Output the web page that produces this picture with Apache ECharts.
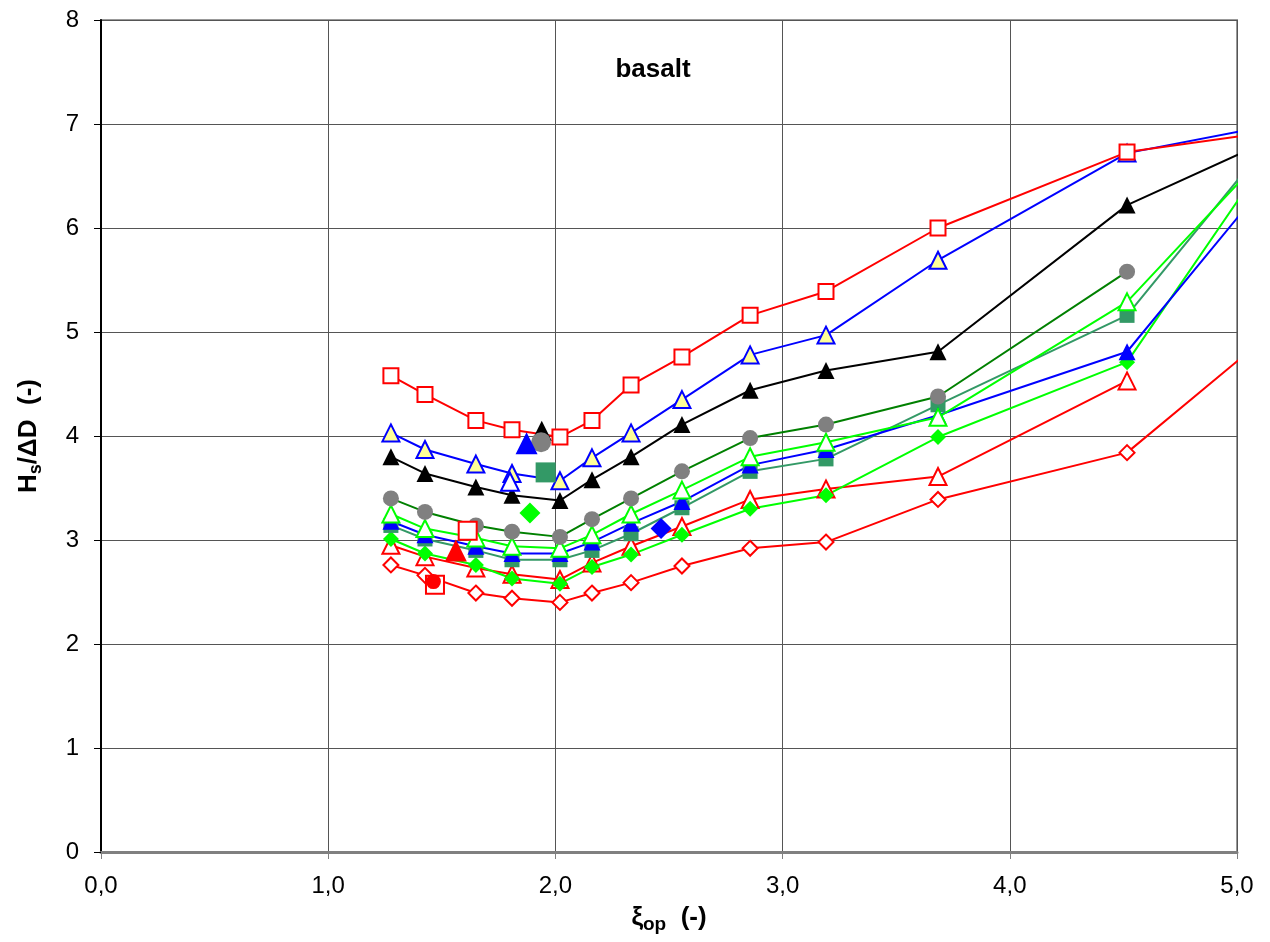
<!DOCTYPE html>
<html>
<head>
<meta charset="utf-8">
<script src="https://cdn.jsdelivr.net/npm/echarts@6/dist/echarts.min.js"></script>
<style>
html,body{margin:0;padding:0;background:#fff;}
#chart{width:1270px;height:942px;}
</style>
</head>
<body>
<div id="chart"></div>
<script>
// ---- data ----
const xs = [1.276,1.426,1.650,1.809,2.020,2.161,2.333,2.557,2.857,3.191,3.684,4.516,5.04];

const redSquare    = [4.58,4.40,4.15,4.06,3.99,4.15,4.49,4.76,5.16,5.39,6.00,6.73,6.89];
const blueOpenTri  = [4.03,3.87,3.73,3.64,3.57,3.79,4.03,4.35,4.78,4.97,5.69,6.72,6.94];
const blackTri     = [3.80,3.64,3.51,3.43,3.38,3.58,3.80,4.11,4.44,4.63,4.81,6.22,6.74];
const grayCircle   = [3.40,3.27,3.14,3.08,3.03,3.20,3.40,3.66,3.98,4.11,4.38,5.58];
const limeOpenTri  = [3.25,3.11,3.02,2.94,2.92,3.05,3.25,3.48,3.80,3.94,4.18,5.29,6.51];
const tealSquare   = [3.14,3.01,2.90,2.81,2.81,2.90,3.06,3.31,3.66,3.78,4.30,5.16,6.56];
const blueTri      = [3.18,3.05,2.94,2.87,2.87,2.98,3.16,3.37,3.72,3.87,4.20,4.81,6.20];
const limeDiamond  = [3.01,2.87,2.76,2.63,2.58,2.74,2.86,3.05,3.30,3.43,3.99,4.71,6.38];
const redOpenTri   = [2.95,2.84,2.73,2.67,2.62,2.78,2.94,3.13,3.39,3.49,3.61,4.53];
const redDiamond   = [2.76,2.66,2.49,2.44,2.40,2.49,2.59,2.75,2.92,2.98,3.39,3.84,4.79];

// isolated points [x, y]
const ptBlackTri    = [1.940, 4.05];
const ptGrayCircle  = [1.937, 3.94];
const ptBlueTri     = [1.873, 3.93];
const ptTealSquare  = [1.957, 3.65];
const ptBlueOpenTri = [1.800, 3.56];
const ptLimeDiamond = [1.888, 3.26];
const ptRedSquareA  = [1.614, 3.09];
const ptRedTri      = [1.562, 2.90];
const ptRedCircle   = [1.463, 2.60];
const ptRedSquareB  = [1.470, 2.57];
const ptBlueDiamond = [2.465, 3.11];

const xTicks = [0,1,2,3,4,5];
const yTicks = [0,1,2,3,4,5,6,7,8];

// ---- build ----
function pairs(ys){ return ys.map((y,i)=>[xs[i], y]); }

function lineSeries(name, ys, lineColor, symbol, size, fill, border){
  return {
    name, type:'line', data: pairs(ys), clip:true,
    symbol, symbolSize:size,
    lineStyle:{color:lineColor, width:2},
    itemStyle:{color:fill, borderColor:border, borderWidth: fill===border?0:2},
    emphasis:{disabled:true}, animation:false, z:2
  };
}
function pointSeries(name, pt, symbol, size, fill, border){
  return {
    name, type:'scatter', data:[pt], symbol, symbolSize:size,
    itemStyle:{color:fill, borderColor:border, borderWidth: fill===border?0:2, opacity:1},
    emphasis:{disabled:true}, animation:false, z:5
  };
}

const RED='#FF0000', BLUE='#0000FF', BLACK='#000000', DKGREEN='#008000',
      LIME='#00FF00', TEAL='#339966', GRAY='#808080', YEL='#FFFF99', WHITE='#FFFFFF';

const series = [
  lineSeries('redDiamond', redDiamond, RED, 'diamond', 15, WHITE, RED),
  lineSeries('redOpenTri', redOpenTri, RED, 'triangle', 17, WHITE, RED),
  lineSeries('limeDiamond', limeDiamond, LIME, 'diamond', 16, LIME, LIME),
  lineSeries('tealSquare', tealSquare, TEAL, 'rect', 15, TEAL, TEAL),
  lineSeries('blueTri', blueTri, BLUE, 'triangle', 17, BLUE, BLUE),
  lineSeries('limeOpenTri', limeOpenTri, LIME, 'triangle', 17, WHITE, LIME),
  lineSeries('grayCircle', grayCircle, DKGREEN, 'circle', 16, GRAY, GRAY),
  lineSeries('blackTri', blackTri, BLACK, 'triangle', 17, BLACK, BLACK),
  lineSeries('blueOpenTri', blueOpenTri, BLUE, 'triangle', 17, YEL, BLUE),
  lineSeries('redSquare', redSquare, RED, 'rect', 15, WHITE, RED),
  pointSeries('ptBlackTri', ptBlackTri, 'triangle', 20, BLACK, BLACK),
  pointSeries('ptGrayCircle', ptGrayCircle, 'circle', 20, GRAY, GRAY),
  pointSeries('ptBlueTri', ptBlueTri, 'triangle', 22, BLUE, BLUE),
  pointSeries('ptTealSquare', ptTealSquare, 'rect', 20, TEAL, TEAL),
  pointSeries('ptBlueOpenTri', ptBlueOpenTri, 'triangle', 18, WHITE, BLUE),
  pointSeries('ptLimeDiamond', ptLimeDiamond, 'diamond', 21, LIME, LIME),
  pointSeries('ptRedSquareA', ptRedSquareA, 'rect', 18, WHITE, RED),
  pointSeries('ptRedTri', ptRedTri, 'triangle', 22, RED, RED),
  pointSeries('ptRedSquareB', ptRedSquareB, 'rect', 18, WHITE, RED),
  pointSeries('ptRedCircle', ptRedCircle, 'circle', 15, RED, RED),
  pointSeries('ptBlueDiamond', ptBlueDiamond, 'diamond', 21, BLUE, BLUE)
];

const FONT = '"Liberation Sans", Arial, Helvetica, sans-serif';

const chart = echarts.init(document.getElementById('chart'), null, {renderer:'canvas'});
chart.setOption({
  animation:false,
  backgroundColor:'#fff',
  grid:{left:101, right:33, top:20, bottom:90, show:true, borderColor:'#999', borderWidth:2, backgroundColor:'transparent'},
  xAxis:{
    type:'value', min:xTicks[0], max:xTicks[xTicks.length-1], interval:1,
    axisLine:{show:true, onZero:false, lineStyle:{color:'#808080', width:3}},
    axisTick:{show:true, length:7, lineStyle:{color:'#808080', width:1}},
    axisLabel:{fontFamily:FONT, fontSize:24, color:'#000', margin:22,
      formatter:v=>v.toFixed(1).replace('.',',')},
    splitLine:{show:true, lineStyle:{color:'#555', width:1}},
    name:'{g|ξ}{s|op}{b|  (-)}', nameLocation:'middle', nameGap:50,
    nameTextStyle:{
      rich:{
        g:{fontFamily:FONT, fontSize:26, fontWeight:'bold', color:'#000', lineHeight:32, verticalAlign:'middle'},
        s:{fontFamily:FONT, fontSize:19, fontWeight:'bold', color:'#000', lineHeight:20, verticalAlign:'bottom'},
        b:{fontFamily:FONT, fontSize:26, fontWeight:'bold', color:'#000', lineHeight:32, verticalAlign:'middle'}
      }
    }
  },
  yAxis:{
    type:'value', min:yTicks[0], max:yTicks[yTicks.length-1], interval:1,
    axisLine:{show:true, lineStyle:{color:'#000', width:2}},
    axisTick:{show:true, length:7, lineStyle:{color:'#000', width:1}},
    axisLabel:{fontFamily:FONT, fontSize:24, color:'#000', margin:22},
    splitLine:{show:true, lineStyle:{color:'#555', width:1}},
    name:'{b|H}{s|s}{b|/ΔD  (-)}', nameLocation:'middle', nameGap:56, nameRotate:90,
    nameTextStyle:{
      rich:{
        b:{fontFamily:FONT, fontSize:26, fontWeight:'bold', color:'#000', lineHeight:32, verticalAlign:'middle'},
        s:{fontFamily:FONT, fontSize:18, fontWeight:'bold', color:'#000', lineHeight:19, verticalAlign:'bottom'}
      }
    }
  },
  graphic:[{type:'text', x:653, y:70, style:{text:'basalt', font:'bold 26px '+FONT, fill:'#000', align:'center', verticalAlign:'middle'}}],
  series
});
</script>
</body>
</html>
